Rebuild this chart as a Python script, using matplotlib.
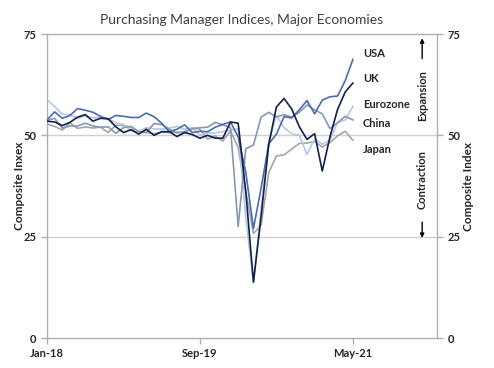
import matplotlib
matplotlib.use("Agg")
import matplotlib.pyplot as plt

plt.rcParams['font.family'] = ['Lato', 'DejaVu Sans']

# Monthly composite PMI, Jan-18 .. May-21
usa = [53.8, 55.8, 54.2, 54.9, 56.6, 56.2, 55.7, 54.7, 53.9, 54.9, 54.7, 54.4,
       54.4, 55.5, 54.6, 53.0, 50.9, 51.5, 52.6, 50.7, 51.0, 50.9, 52.0, 52.7,
       53.3, 49.6, 40.9, 27.0, 37.0, 47.9, 50.3, 54.6, 54.3, 56.3, 58.6, 55.3,
       58.7, 59.5, 59.7, 63.5, 68.7]
uk = [53.5, 53.3, 52.4, 53.2, 54.5, 55.1, 53.5, 54.2, 54.1, 52.1, 50.7, 51.4,
      50.3, 51.5, 50.0, 50.9, 50.9, 49.7, 50.7, 50.2, 49.3, 50.0, 49.3, 49.3,
      53.3, 53.0, 36.0, 13.8, 30.0, 47.7, 57.0, 59.1, 56.5, 52.1, 49.0, 50.4,
      41.2, 49.6, 56.4, 60.7, 62.9]
eurozone = [58.8, 57.1, 55.2, 55.1, 54.1, 54.9, 54.3, 54.5, 54.1, 53.1, 52.7, 51.1,
            51.0, 51.9, 51.6, 51.5, 51.8, 52.2, 51.5, 51.9, 50.1, 50.6, 50.6, 50.9,
            51.3, 51.6, 29.7, 13.6, 31.9, 48.5, 54.9, 51.9, 50.4, 50.0, 45.3, 49.1,
            47.8, 48.8, 53.2, 53.8, 57.1]
china = [53.7, 54.2, 51.8, 52.3, 52.3, 53.0, 52.3, 52.0, 52.1, 50.5, 51.9, 52.2,
         50.9, 50.7, 52.9, 52.7, 51.5, 50.6, 50.9, 51.6, 51.9, 52.0, 53.2, 52.6,
         51.9, 27.5, 46.7, 47.6, 54.5, 55.7, 54.5, 55.1, 54.5, 55.7, 57.5, 56.3,
         55.3, 51.7, 53.1, 54.7, 53.8]
japan = [52.8, 52.2, 51.3, 53.1, 51.7, 52.1, 51.8, 52.0, 50.7, 52.5, 52.4, 52.0,
         50.9, 50.7, 50.4, 50.8, 50.7, 50.8, 50.6, 51.9, 51.5, 49.1, 49.8, 48.6,
         51.1, 47.0, 36.2, 25.8, 27.8, 40.8, 44.9, 45.2, 46.6, 48.0, 48.1, 48.5,
         47.1, 48.2, 49.9, 51.0, 48.8]

series_names = ["USA", "UK", "Eurozone", "China", "Japan"]
series_values = [usa, uk, eurozone, china, japan]
colors = ["#4a6db0", "#13204a", "#b3c8e6", "#8798b2", "#a6a6a6"]
zorders = [4, 5, 2, 3, 1]
label_y = [70.3, 63.9, 57.5, 52.8, 46.4]

x_tick_pos = [0, 20, 40]
x_tick_labels = ["Jan-18", "Sep-19", "May-21"]
y_ticks = [0, 25, 50, 75]

fig = plt.figure(figsize=(4.94, 3.68), dpi=100)
ax = fig.add_axes([0.0951, 0.0815, 0.7895, 0.8261])

months = list(range(len(usa)))
for name, vals, c, z in zip(series_names, series_values, colors, zorders):
    ax.plot(months, vals, color=c, lw=1.2, zorder=z)

for name, ly in zip(series_names, label_y):
    ax.text(len(usa) + 0.3, ly, name, fontsize=8, fontweight='bold',
            color='#262626', ha='left', va='center')

ax.set_xlim(0, 51)
ax.set_ylim(0, 75)
ax.set_yticks(y_ticks)
ax.set_xticks(x_tick_pos)
ax.set_xticklabels(x_tick_labels)
for v in [25, 50]:
    ax.axhline(v, color='#d0d0d0', lw=1.0, zorder=0)

for s in ax.spines.values():
    s.set_color('#b0b0b0')
    s.set_linewidth(1.0)

ax.tick_params(axis='both', colors='#b0b0b0', labelcolor='#262626',
               labelsize=8, length=4, width=1.0)
for lab in ax.get_xticklabels() + ax.get_yticklabels():
    lab.set_fontweight('bold')

ax2 = ax.twinx()
ax2.set_ylim(0, 75)
ax2.set_yticks(y_ticks)
ax2.tick_params(axis='y', colors='#b0b0b0', labelcolor='#262626',
                labelsize=8, length=4, width=1.0)
for lab in ax2.get_yticklabels():
    lab.set_fontweight('bold')
for s in ax2.spines.values():
    s.set_visible(False)

ax.set_ylabel("Composite Inxex", fontsize=8.5, fontweight='bold', color='#262626',
              labelpad=-1)
ax2.set_ylabel("Composite Index", fontsize=8.5, fontweight='bold', color='#262626',
               labelpad=2)

ax.set_title("Purchasing Manager Indices, Major Economies", fontsize=10,
             color='#404040', pad=7)

# Expansion / Contraction annotations
ax.text(0.962, 0.797, "Expansion", transform=ax.transAxes, rotation=90,
        fontsize=8, fontweight='bold', color='#262626', ha='center', va='center')
ax.annotate("", xy=(0.962, 0.995), xytext=(0.962, 0.91), xycoords='axes fraction',
            arrowprops=dict(arrowstyle='-|>', color='black', lw=1.0,
                            mutation_scale=6))
ax.text(0.962, 0.52, "Contraction", transform=ax.transAxes, rotation=90,
        fontsize=8, fontweight='bold', color='#262626', ha='center', va='center')
ax.annotate("", xy=(0.962, 0.32), xytext=(0.962, 0.39), xycoords='axes fraction',
            arrowprops=dict(arrowstyle='-|>', color='black', lw=1.0,
                            mutation_scale=6))

fig.savefig("out.png", dpi=100)
